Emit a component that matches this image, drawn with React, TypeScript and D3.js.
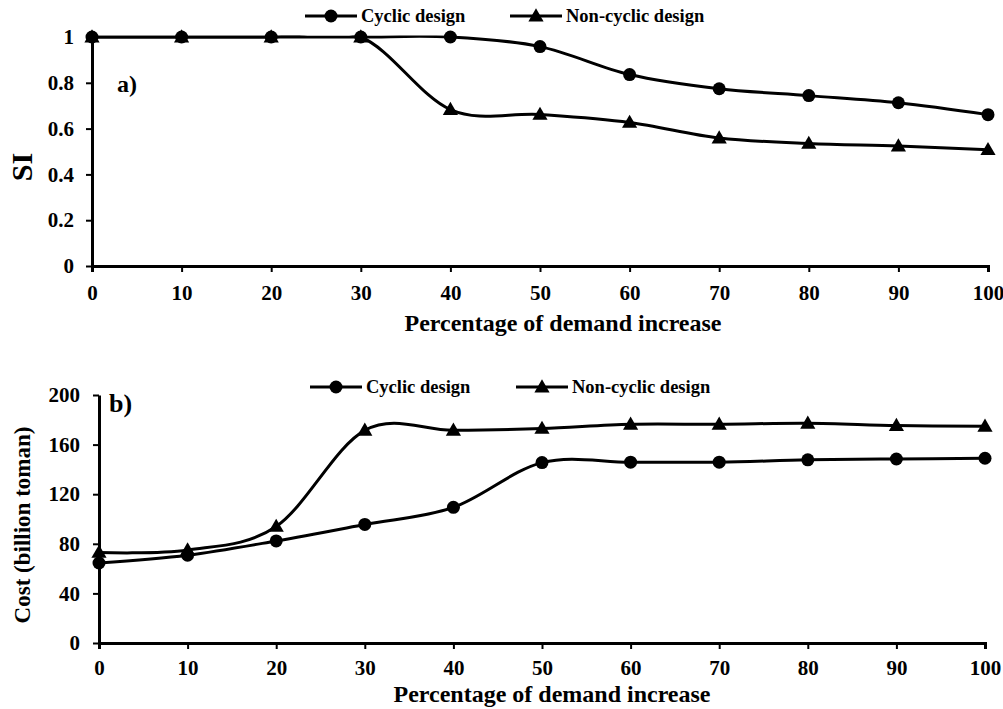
import { useEffect, useRef } from 'react';
import * as d3 from 'd3';

const demand = [0, 10, 20, 30, 40, 50, 60, 70, 80, 90, 100];
const siCyclic = [1, 1, 1, 1, 1, 0.958, 0.836, 0.774, 0.744, 0.713, 0.661];
const siNonCyclic = [1, 1, 1, 1, 0.683, 0.662, 0.627, 0.559, 0.535, 0.524, 0.508];
const costCyclic = [64.5, 70.8, 82.3, 95.6, 109.4, 145.5, 145.8, 145.8, 147.7, 148.4, 149];
const costNonCyclic = [73, 75, 94, 171.5, 171.5, 173, 176.4, 176.4, 177.2, 175.4, 174.8];
const siTicks = [0, 0.2, 0.4, 0.6, 0.8, 1];
const costTicks = [0, 40, 80, 120, 160, 200];
const seriesNames = ['Cyclic design', 'Non-cyclic design'];

const FONT = '"Liberation Serif", "Times New Roman", serif';

type PanelProps = {
  id: string;
  left: number;
  right: number;
  top: number;
  bottom: number;
  yMax: number;
  yTicks: number[];
  cyclic: number[];
  nonCyclic: number[];
  yTitle: string;
  yTitleSize: number;
  yTitleX: number;
  yTitleY: number;
  xTitleX: number;
  xTitleY: number;
  tag: string;
  tagSize: number;
  tagX: number;
  tagY: number;
  legendY: number;
  legendX: [number, number];
  xLabelGap: number;
  yLabelGap: number;
};

const Marker = ({ kind, x, y }: { kind: number; x: number; y: number }) =>
  kind === 0 ? (
    <circle cx={x} cy={y} r={6.5} fill="#000" />
  ) : (
    <path d={d3.symbol(d3.symbolTriangle, 100)()!} transform={`translate(${x},${y + 1})`} fill="#000" />
  );

const Panel = (p: PanelProps) => {
  const xAxisRef = useRef<SVGGElement>(null);
  const yAxisRef = useRef<SVGGElement>(null);

  const x = d3.scaleLinear().domain([0, 100]).range([p.left, p.right]);
  const y = d3.scaleLinear().domain([0, p.yMax]).range([p.bottom, p.top]);

  useEffect(() => {
    const xa = d3.select(xAxisRef.current!);
    xa.call(d3.axisBottom(x).tickValues(demand).tickSize(6).tickPadding(p.xLabelGap).tickFormat(d3.format('d')) as any);
    xa.select('.domain').attr('stroke-width', 3);
    xa.selectAll('.tick line').attr('stroke-width', 2);
    xa.selectAll('text').attr('font-family', FONT).attr('font-weight', 'bold').attr('font-size', 21);

    const ya = d3.select(yAxisRef.current!);
    ya.call(
      d3
        .axisLeft(y)
        .tickValues(p.yTicks)
        .tickSize(6)
        .tickSizeOuter(0)
        .tickPadding(p.yLabelGap)
        .tickFormat((d) => String(d)) as any
    );
    ya.select('.domain').attr('stroke-width', 3);
    ya.selectAll('.tick line').attr('stroke-width', 2);
    ya.selectAll('text').attr('font-family', FONT).attr('font-weight', 'bold').attr('font-size', 21);
  });

  const line = d3
    .line<number>()
    .x((_, i) => x(demand[i]))
    .y((d) => y(d))
    .curve(d3.curveCardinal.tension(0));

  const series = [p.cyclic, p.nonCyclic];

  return (
    <g>
      <defs>
        <clipPath id={p.id}>
          <rect x={p.left} y={p.top - 1.5} width={p.right - p.left + 10} height={p.bottom - p.top + 1.5} />
        </clipPath>
      </defs>
      <g ref={xAxisRef} transform={`translate(0,${p.bottom})`} />
      <g ref={yAxisRef} transform={`translate(${p.left},0)`} />
      {series.map((s, k) => (
        <g key={k}>
          <path d={line(s)!} fill="none" stroke="#000" strokeWidth={3} clipPath={`url(#${p.id})`} />
          {s.map((v, i) => (
            <Marker key={i} kind={k} x={x(demand[i])} y={y(v)} />
          ))}
        </g>
      ))}
      {seriesNames.map((name, k) => {
        const lx = p.legendX[k];
        return (
          <g key={name}>
            <line x1={lx} x2={lx + 52} y1={p.legendY} y2={p.legendY} stroke="#000" strokeWidth={3} />
            <Marker kind={k} x={lx + 26} y={p.legendY} />
            <text x={lx + 56} y={p.legendY} dy="0.33em" fontFamily={FONT} fontWeight="bold" fontSize={18.5}>
              {name}
            </text>
          </g>
        );
      })}
      <text x={p.tagX} y={p.tagY} fontFamily={FONT} fontWeight="bold" fontSize={p.tagSize}>
        {p.tag}
      </text>
      <text x={p.xTitleX} y={p.xTitleY} textAnchor="middle" fontFamily={FONT} fontWeight="bold" fontSize={24}>
        Percentage of demand increase
      </text>
      <text
        transform={`translate(${p.yTitleX},${p.yTitleY}) rotate(-90)`}
        textAnchor="middle"
        fontFamily={FONT}
        fontWeight="bold"
        fontSize={p.yTitleSize}
      >
        {p.yTitle}
      </text>
    </g>
  );
};

export default function App() {
  return (
    <svg width={1003} height={709} style={{ position: 'absolute', left: 0, top: 0, background: '#fff' }}>
      <Panel
        id="clipA"
        left={92}
        right={988}
        top={37}
        bottom={266}
        yMax={1}
        yTicks={siTicks}
        cyclic={siCyclic}
        nonCyclic={siNonCyclic}
        yTitle="SI"
        yTitleSize={30}
        yTitleX={32}
        yTitleY={167}
        xTitleX={563}
        xTitleY={331}
        tag="a)"
        tagSize={24}
        tagX={117}
        tagY={92}
        legendY={16}
        legendX={[305, 510]}
        xLabelGap={13}
        yLabelGap={12}
      />
      <Panel
        id="clipB"
        left={99}
        right={985}
        top={395}
        bottom={643}
        yMax={200}
        yTicks={costTicks}
        cyclic={costCyclic}
        nonCyclic={costNonCyclic}
        yTitle="Cost (billion toman)"
        yTitleSize={23}
        yTitleX={30}
        yTitleY={525}
        xTitleX={552}
        xTitleY={702}
        tag="b)"
        tagSize={26}
        tagX={109}
        tagY={412}
        legendY={387}
        legendX={[310, 516]}
        xLabelGap={11}
        yLabelGap={13}
      />
    </svg>
  );
}
